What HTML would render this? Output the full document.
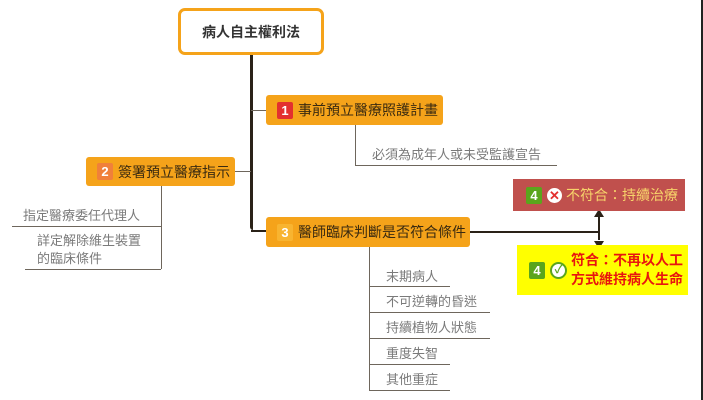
<!DOCTYPE html>
<html><head><meta charset="utf-8"><style>
body{margin:0;width:703px;height:400px;background:#fff;position:relative;overflow:hidden;font-family:"Liberation Sans","Noto Sans CJK TC",sans-serif;}
.a{position:absolute;}
.node{position:absolute;background:#f5a31a;border-radius:3px;color:#3a2a10;font-size:14px;display:flex;align-items:center;box-sizing:border-box;padding-left:11px;}
.badge{display:inline-block;width:16px;height:17px;line-height:17px;text-align:center;color:#fff;font-size:13px;font-weight:bold;border-radius:2px;margin-right:5px;}
.t{position:absolute;color:#7a7a7a;font-size:13px;white-space:nowrap;}
.h{position:absolute;height:1px;background:#6e665c;}
.v{position:absolute;width:1px;background:#6e665c;}
</style></head><body>
<div class="a" style="left:178px;top:8px;width:146px;height:47px;box-sizing:border-box;border:3px solid #f5a31a;border-radius:7px;display:flex;align-items:center;justify-content:center;font-size:14px;font-weight:bold;color:#333;">病人自主權利法</div>
<!-- spine -->
<div class="a" style="left:250px;top:55px;width:3px;height:175px;background:#2a2218;border-radius:0 0 0 6px;"></div>
<div class="a" style="left:251px;top:110px;width:15px;height:1px;background:#6e665c;"></div>
<div class="a" style="left:251px;top:230px;width:15px;height:2px;background:#2a2218;"></div>
<div class="a" style="left:235px;top:171px;width:16px;height:1px;background:#6e665c;"></div>

<div class="node" style="left:266px;top:95px;width:177px;height:30px;"><span class="badge" style="background:#e3302f;">1</span>事前預立醫療照護計畫</div>
<div class="v" style="left:355px;top:125px;height:40px;"></div>
<div class="h" style="left:355px;top:165px;width:202px;"></div>
<div class="t" style="left:372px;top:144px;">必須為成年人或未受監護宣告</div>

<div class="node" style="left:86px;top:157px;width:149px;height:29px;"><span class="badge" style="background:#f0803a;">2</span>簽署預立醫療指示</div>
<div class="v" style="left:161px;top:186px;height:83px;"></div>
<div class="h" style="left:12px;top:226px;width:149px;"></div>
<div class="h" style="left:25px;top:269px;width:136px;"></div>
<div class="t" style="left:23px;top:205px;">指定醫療委任代理人</div>
<div class="t" style="left:37px;top:232px;line-height:18px;">詳定解除維生裝置<br>的臨床條件</div>

<div class="node" style="left:266px;top:217px;width:204px;height:30px;"><span class="badge" style="background:#f8b430;">3</span>醫師臨床判斷是否符合條件</div>
<div class="a" style="left:470px;top:231px;width:129px;height:2px;background:#2a2218;"></div>
<div class="a" style="left:598px;top:216px;width:2px;height:24px;background:#2a2218;"></div>
<svg class="a" style="left:592px;top:209px;" width="14" height="40"><polygon points="7,0 2,8 12,8" fill="#2a2218"/><polygon points="7,40 2,32 12,32" fill="#2a2218"/></svg>

<div class="a" style="left:513px;top:179px;width:172px;height:32px;background:#c0504d;display:flex;align-items:center;padding-left:13px;box-sizing:border-box;color:#f7d36a;font-size:14px;"><span class="badge" style="background:#5aa51c;">4</span><span style="display:inline-block;width:15px;height:15px;border-radius:50%;background:#fff;color:#e3302f;font-size:13px;line-height:15px;text-align:center;font-weight:bold;margin-right:4px;">✕</span>不符合：持續治療</div>

<div class="a" style="left:517px;top:245px;width:171px;height:50px;background:#ffff00;display:flex;align-items:center;padding-left:12px;box-sizing:border-box;"><span class="badge" style="background:#5aa51c;">4</span><span style="display:inline-block;width:13px;height:13px;border-radius:50%;border:2px solid #5aa51c;background:#fff;color:#5aa51c;font-size:11px;line-height:13px;text-align:center;font-weight:bold;margin-right:4px;">✓</span><span style="color:#e8150f;font-weight:bold;font-size:14px;line-height:19px;">符合：不再以人工<br>方式維持病人生命</span></div>

<div class="v" style="left:369px;top:247px;height:143px;"></div>
<div class="h" style="left:369px;top:286px;width:81px;"></div>
<div class="h" style="left:369px;top:312px;width:121px;"></div>
<div class="h" style="left:369px;top:338px;width:121px;"></div>
<div class="h" style="left:369px;top:364px;width:81px;"></div>
<div class="h" style="left:369px;top:390px;width:81px;"></div>
<div class="t" style="left:386px;top:266px;">末期病人</div>
<div class="t" style="left:386px;top:291px;">不可逆轉的昏迷</div>
<div class="t" style="left:386px;top:317px;">持續植物人狀態</div>
<div class="t" style="left:386px;top:343px;">重度失智</div>
<div class="t" style="left:386px;top:369px;">其他重症</div>

<div class="a" style="left:701px;top:0;width:2px;height:400px;background:#222;"></div>
</body></html>
